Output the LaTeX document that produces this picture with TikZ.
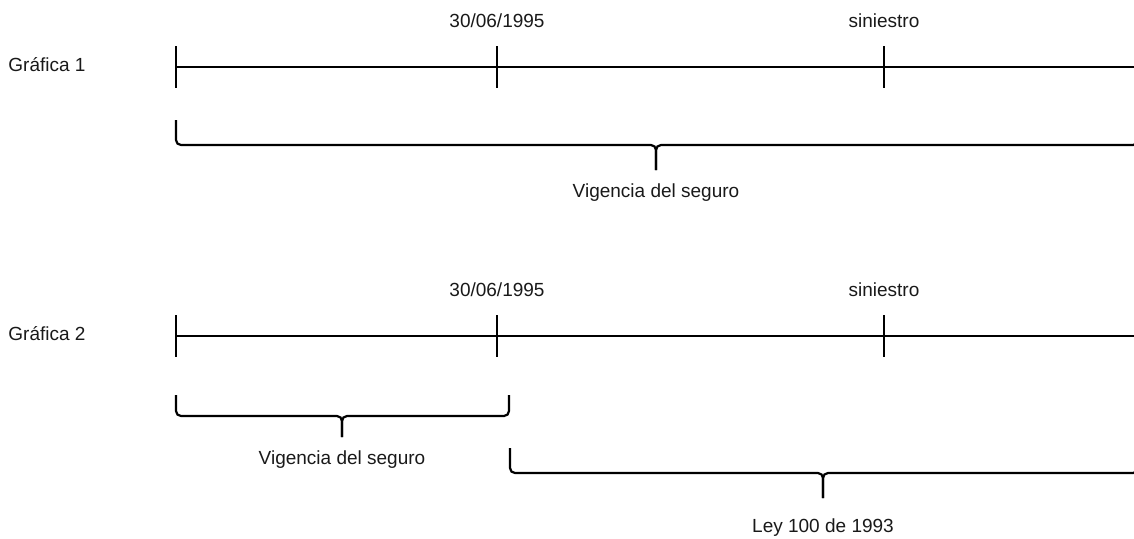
\documentclass[tikz,border=0pt]{standalone}
\usepackage{fontspec}
\setmainfont{Liberation Sans}
\usetikzlibrary{positioning}

\begin{document}
\begin{tikzpicture}[
  x=0.5pt, y=-0.5pt,
  every node/.style={font=\fontsize{9.5}{11}\selectfont, inner sep=0pt, text=black!90},
  eje/.style={line width=1.1pt},
  marca/.style={line width=1.1pt},
  llave/.style={line width=1.1pt, rounded corners=2.5pt},
]
\useasboundingbox (0,0) rectangle (1134,538);

% Grafica 1
\node[anchor=base west] (g1) at (8,71) {Gráfica 1};
\coordinate (a1) at (176,67);
\coordinate (b1) at (497,67);
\coordinate (c1) at (884,67);
\coordinate (d1) at (1134,67);
\draw[eje] (a1) -- (d1);
\foreach \p in {a1,b1,c1}
  \draw[marca] (\p) ++(0,-21) -- ++(0,42);
\node[anchor=base] (f1) at (497,27) {30/06/1995};
\node[anchor=base] (s1) at (884,27) {siniestro};

\draw[llave] (176,120) |- (656,145) -- (656,170);
\draw[llave] (1138,120) |- (656,145) -- (656,170);
\node[anchor=base] (v1) at (656,197) {Vigencia del seguro};

% Grafica 2
\node[anchor=base west] (g2) at (8,340) {Gráfica 2};
\coordinate (a2) at (176,336);
\coordinate (b2) at (497,336);
\coordinate (c2) at (884,336);
\coordinate (d2) at (1134,336);
\draw[eje] (a2) -- (d2);
\foreach \p in {a2,b2,c2}
  \draw[marca] (\p) ++(0,-21) -- ++(0,42);
\node[anchor=base] (f2) at (497,296) {30/06/1995};
\node[anchor=base] (s2) at (884,296) {siniestro};

\draw[llave] (176,395) |- (342,416) -- (342,437);
\draw[llave] (509,395) |- (342,416) -- (342,437);
\node[anchor=base] (v2) at (342,464) {Vigencia del seguro};

\draw[llave] (510,448) |- (823,473) -- (823,498);
\draw[llave] (1138,448) |- (823,473) -- (823,498);
\node[anchor=base] (l2) at (823,532) {Ley 100 de 1993};
\end{tikzpicture}
\end{document}
